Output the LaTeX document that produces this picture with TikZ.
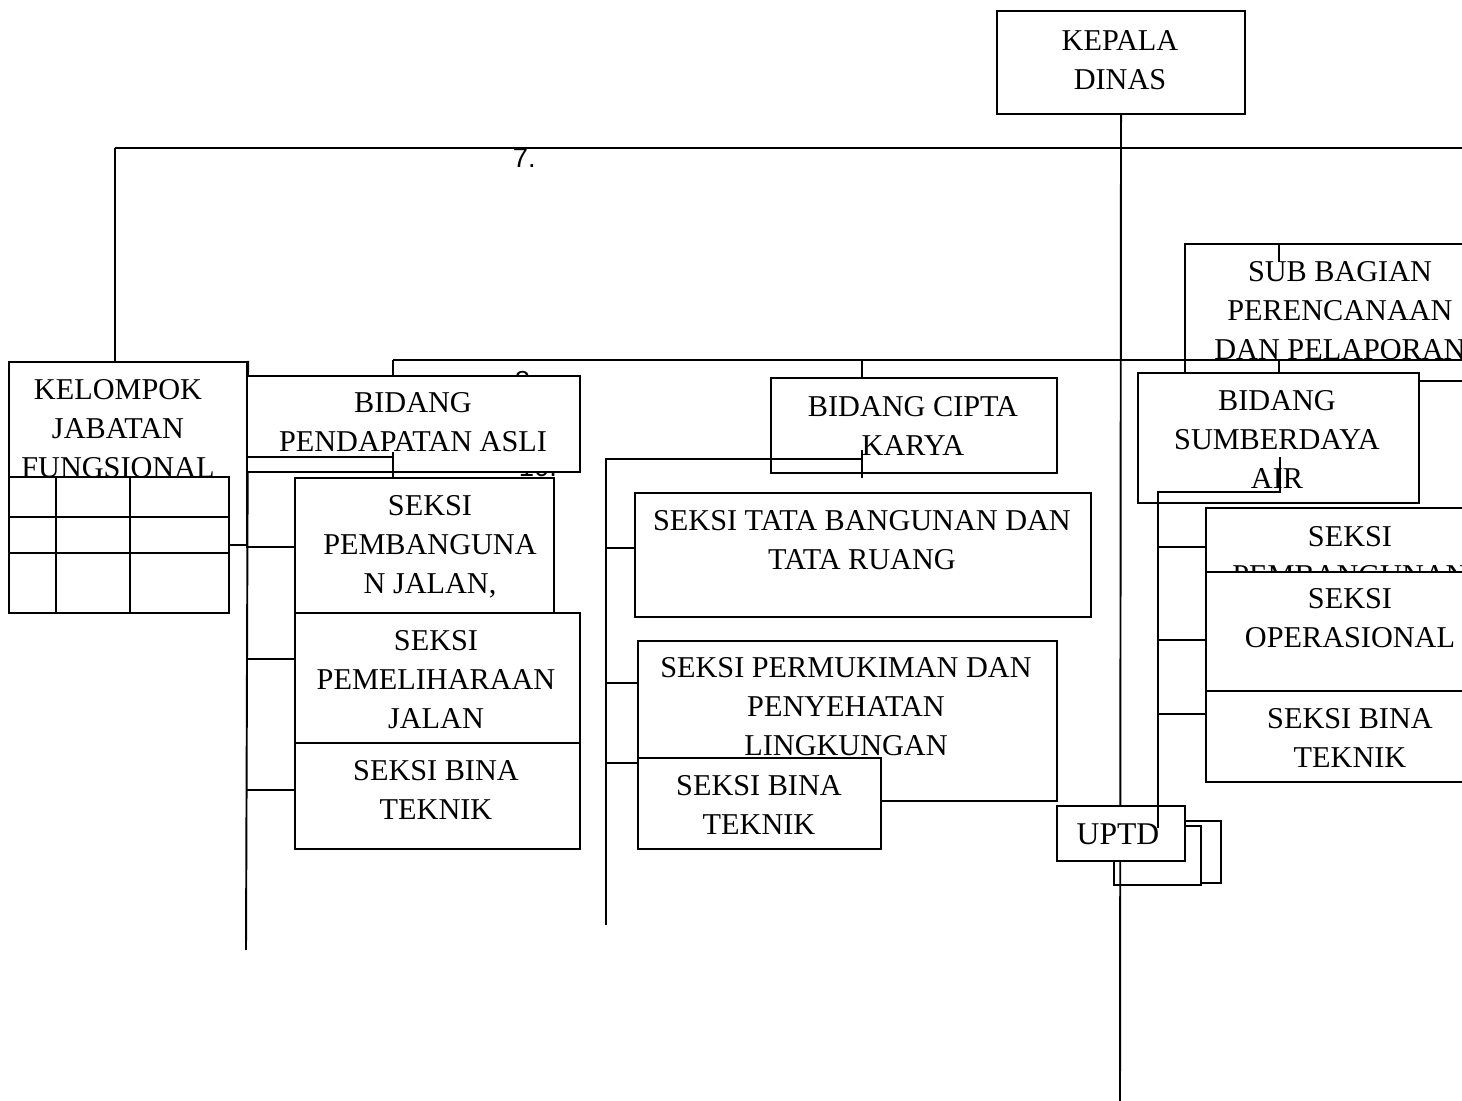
\documentclass[tikz,border=0pt]{standalone}
\usepackage{fontspec}
\setmainfont{Liberation Serif}
\newfontfamily\numfont{Liberation Sans}
\usepackage{tikz}
\usetikzlibrary{positioning}

\begin{document}
\begin{tikzpicture}[x=0.01cm, y=-0.01cm, line width=0.55pt,
  unitbox/.style={draw, fill=white, rectangle, anchor=north west, inner sep=0pt},
  unittext/.style={anchor=north, align=center, inner sep=0pt, font=\fontsize{8.6pt}{11pt}\selectfont},
  numtext/.style={inner sep=0pt, font=\numfont\fontsize{7.8pt}{9pt}\selectfont}]

  \useasboundingbox (0,0) rectangle (1462,1101);
  \clip (0,0) rectangle (1462,1101);

  % top line and the left column
  \coordinate (topL) at (115,148);
  \coordinate (topR) at (1462,148);
  \draw (topL) -- (topR);
  \node[numtext, anchor=north west] (num7) at (512,148) {7.};

  \node[unitbox, minimum width=2.38cm, minimum height=1.83cm] (kelompok) at (8,361) {};
  \node[unittext] (kelompokT) at (118,379) {KELOMPOK\\JABATAN\\FUNGSIONAL};
  \draw (topL) -- (kelompok.north -| topL);

  \coordinate (busA) at (246,950);
  \draw (kelompok.north east) -- (busA);

  \node[unitbox, minimum width=2.20cm, minimum height=1.36cm] (tabel) at (8,476) {};
  \foreach \cx in {56,130} \draw (\cx,476) -- (\cx,612);
  \foreach \ry in {517,553} \draw (8,\ry) -- (228,\ry);

  % bidang pendapatan asli
  \node[numtext, anchor=north west] (num8) at (514,370) {8.};
  \node[numtext, anchor=base west] (num10) at (518,477) {10.};
  \node[unitbox, minimum width=3.33cm, minimum height=0.96cm] (pendapatan) at (246,375) {};
  \node[unittext] (pendapatanT) at (413,392) {BIDANG\\PENDAPATAN ASLI};

  \node[unitbox, minimum width=2.59cm, minimum height=1.43cm] (pemb) at (294,477) {};
  \node[unittext] (pembT) at (430,495) {SEKSI\\PEMBANGUNA\\N JALAN,\\JEMBATAN};
  \node[unitbox, minimum width=2.85cm, minimum height=1.30cm] (pemel) at (294,612) {};
  \node[unittext] (pemelT) at (436,630) {SEKSI\\PEMELIHARAAN\\JALAN};
  \node[unitbox, minimum width=2.85cm, minimum height=1.06cm] (binaA) at (294,742) {};
  \node[unittext] (binaAT) at (436,760) {SEKSI BINA\\TEKNIK};

  \coordinate (pendJ) at (393,457);
  \draw (pendJ -| kelompok.east) -- (pendJ);
  \draw ([yshift=0.05cm]pendJ) -- (pendJ |- pemb.north);

  \coordinate (a1) at (246,547);
  \coordinate (a2) at (246,659);
  \coordinate (a3) at (246,790);
  \draw (a1) -- (a1 -| pemb.west);
  \draw (a2) -- (a2 -| pemel.west);
  \draw (a3) -- (a3 -| binaA.west);

  % bidang cipta karya
  \node[unitbox, minimum width=2.86cm, minimum height=0.95cm] (cipta) at (770,377) {};
  \node[unittext] (ciptaT) at (913,396) {BIDANG CIPTA\\KARYA};
  \node[unitbox, minimum width=4.56cm, minimum height=1.24cm] (tata) at (634,492) {};
  \node[unittext] (tataT) at (862,510) {SEKSI TATA BANGUNAN DAN\\TATA RUANG};
  \node[unitbox, minimum width=4.19cm, minimum height=1.60cm] (permukiman) at (637,640) {};
  \node[unittext] (permukimanT) at (846,657) {SEKSI PERMUKIMAN DAN\\PENYEHATAN\\LINGKUNGAN};
  \node[unitbox, minimum width=2.43cm, minimum height=0.91cm] (binaB) at (637,757) {};
  \node[unittext] (binaBT) at (759,775) {SEKSI BINA\\TEKNIK};

  \coordinate (ciptaK) at (862,459);
  \coordinate (busBtop) at (606,459);
  \coordinate (busB) at (606,925);
  \draw ([yshift=0.09cm]ciptaK) -- ([yshift=-0.19cm]ciptaK);
  \draw (ciptaK) -- (busBtop) -- (busB);
  \coordinate (b1) at (606,548);
  \coordinate (b2) at (606,683);
  \coordinate (b3) at (606,763);
  \draw (b1) -- (b1 -| tata.west);
  \draw (b2) -- (b2 -| permukiman.west);
  \draw (b3) -- (b3 -| binaB.west);

  % sub bagian and the bidang line
  \node[unitbox, minimum width=3.12cm, minimum height=1.37cm] (subbag) at (1184,243) {};
  \node[unittext] (subbagT) at (1340,261) {SUB BAGIAN\\PERENCANAAN\\DAN PELAPORAN};

  \coordinate (bidL) at (393,360);
  \coordinate (bidR) at (1462,360);
  \coordinate (ciptaJ) at (862,360);
  \draw (bidL) -- (bidR);
  \draw (bidL) -- (bidL |- pendapatan.north);
  \draw (ciptaJ) -- (ciptaJ |- cipta.north);

  % bidang sumberdaya air
  \node[unitbox, minimum width=2.81cm, minimum height=1.30cm] (sda) at (1137,372) {};
  \node[unittext] (sdaT) at (1277,390) {BIDANG\\SUMBERDAYA\\AIR};
  \draw (sda.north |- bidL) -- (sda.north);
  \draw (subbag.north west -| sda.north) -- ++(0,19);

  \node[unitbox, minimum width=2.90cm, minimum height=0.80cm] (pembB) at (1205,507) {};
  \node[unittext] (pembBT) at (1350,526) {SEKSI\\PEMBANGUNAN};
  \node[unitbox, minimum width=2.90cm, minimum height=1.19cm] (oper) at (1205,571) {};
  \node[unittext] (operT) at (1350,588) {SEKSI\\OPERASIONAL};
  \node[unitbox, minimum width=2.90cm, minimum height=0.91cm] (binaC) at (1205,690) {};
  \node[unittext] (binaCT) at (1350,708) {SEKSI BINA\\TEKNIK};

  % uptd and the main trunk
  \node[unitbox, minimum width=0.70cm, minimum height=0.62cm] (uptdB) at (1150,820) {};
  \node[unitbox, minimum width=0.87cm, minimum height=0.59cm] (uptdA) at (1113,825) {};

  \node[unitbox, minimum width=2.48cm, minimum height=1.03cm] (kepala) at (996,10) {};
  \node[unittext] (kepalaT) at (1120,30) {KEPALA\\DINAS};
  \coordinate (trunkEnd) at (1120,1101);
  \draw (kepala.south) -- (trunkEnd);

  \node[unitbox, minimum width=1.28cm, minimum height=0.55cm] (uptd) at (1056,805) {};
  \node[unittext, font=\fontsize{9pt}{11pt}\selectfont] (uptdT) at (1118,823) {UPTD};

  \coordinate (sdaK) at (1280,492);
  \coordinate (busC) at (1158,828);
  \draw ([yshift=0.35cm]sdaK) -- (sdaK) -- (sdaK -| busC) -- (busC);
  \coordinate (c1) at (1158,547);
  \coordinate (c2) at (1158,640);
  \coordinate (c3) at (1158,714);
  \draw (c1) -- (c1 -| pembB.west);
  \draw (c2) -- (c2 -| oper.west);
  \draw (c3) -- (c3 -| binaC.west);
\end{tikzpicture}
\end{document}
